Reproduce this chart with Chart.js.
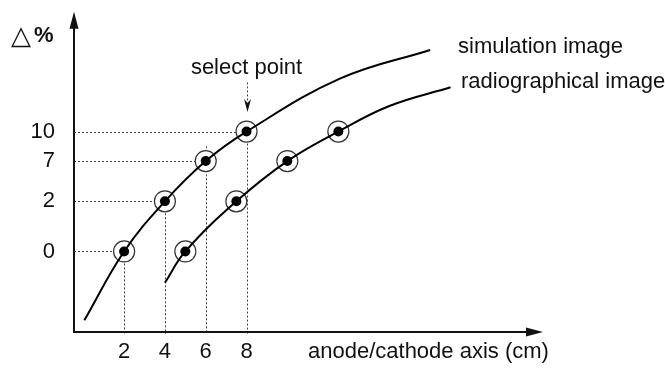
<!DOCTYPE html>
<html>
<head>
<meta charset="utf-8">
<script src="https://cdn.jsdelivr.net/npm/chart.js@4.4.1/dist/chart.umd.min.js"></script>
<style>
  html, body { margin: 0; padding: 0; background: #fff; }
  #wrap { width: 665px; height: 368px; }
</style>
</head>
<body>
<div id="wrap"><canvas id="chart"></canvas></div>
<script>
// axis ticks
const xTicks = [2, 4, 6, 8];
const yTicks = [0, 2, 7, 10];

// simulation image: selected points, plus where the drawn curve begins / bends / ends
const simPoints = [{ x: 2, y: 0 }, { x: 4, y: 2 }, { x: 6, y: 7 }, { x: 8, y: 10 }];
const simCurve = [{ x: 0.05, y: -2.75 }, ...simPoints, { x: 12.6, y: 15.4 }, { x: 17.0, y: 18.3 }];

// radiographical image
const radPoints = [{ x: 5, y: 0 }, { x: 7.5, y: 2 }, { x: 10, y: 7 }, { x: 12.5, y: 10 }];
const radCurve = [{ x: 4.0, y: -1.25 }, ...radPoints, { x: 15.0, y: 12.6 }, { x: 18.0, y: 14.5 }];

// dotted guides: horizontal from the y axis to each sim point, vertical down to the x axis
const guideX = [2, 4, 6, 8];
const guideY = [0, 2, 7, 10];
const guideTop = [0, 2, 8.5, 10];

// "select point" arrow on x = 8
const selectArrow = { x: 8, from: 15, to: 12 };

// the y axis of the sketch is not linear: each tick sits at its own height
const yKnotPos = [0.2515, 0.408, 0.5337, 0.6258];

class SchematicScale extends Chart.LinearScale {
  toDecimal(v) {
    const k = yTicks, p = yKnotPos;
    let i = 0;
    if (v >= k[k.length - 1]) i = k.length - 2;
    else if (v > k[0]) while (v > k[i + 1]) i++;
    return p[i] + (v - k[i]) * (p[i + 1] - p[i]) / (k[i + 1] - k[i]);
  }
  getPixelForValue(v) {
    return v == null ? NaN : this.getPixelForDecimal(this.toDecimal(v));
  }
  getValueForPixel(px) {
    const d = this.getDecimalForPixel(px), k = yTicks, p = yKnotPos;
    let i = 0;
    if (d >= p[p.length - 1]) i = p.length - 2;
    else if (d > p[0]) while (d > p[i + 1]) i++;
    return k[i] + (d - p[i]) * (k[i + 1] - k[i]) / (p[i + 1] - p[i]);
  }
}
SchematicScale.id = 'schematic';
SchematicScale.defaults = Chart.LinearScale.defaults;
Chart.register(SchematicScale);

const FONT = '"Liberation Sans", Arial, Helvetica, sans-serif';
Chart.defaults.font.family = FONT;
Chart.defaults.font.size = 22;
Chart.defaults.color = '#111';

const noPad = (s) => { s.paddingLeft = 0; s.paddingRight = 0; s.paddingTop = 0; s.paddingBottom = 0; };

const guidesPlugin = {
  id: 'guides',
  beforeDatasetsDraw(chart) {
    const { ctx, scales: { x, y } } = chart;
    ctx.save();
    ctx.strokeStyle = '#444';
    ctx.lineWidth = 1;
    ctx.setLineDash([2, 2]);
    guideX.forEach((gx, i) => {
      const px = Math.round(x.getPixelForValue(gx)) + 0.5;
      const py = Math.round(y.getPixelForValue(guideY[i])) + 0.5;
      ctx.beginPath();
      ctx.moveTo(x.left, py);
      ctx.lineTo(px, py);
      ctx.moveTo(px, y.getPixelForValue(guideTop[i]));
      ctx.lineTo(px, y.bottom + 2);
      ctx.stroke();
    });
    // select point arrow
    const ax = Math.round(x.getPixelForValue(selectArrow.x)) + 0.5;
    const y0 = y.getPixelForValue(selectArrow.from);
    const y1 = y.getPixelForValue(selectArrow.to);
    ctx.beginPath();
    ctx.moveTo(ax, y0);
    ctx.lineTo(ax, y1 - 10);
    ctx.stroke();
    ctx.setLineDash([]);
    ctx.fillStyle = '#111';
    ctx.beginPath();
    ctx.moveTo(ax, y1);
    ctx.lineTo(ax - 3.5, y1 - 13);
    ctx.lineTo(ax, y1 - 9);
    ctx.lineTo(ax + 3.5, y1 - 13);
    ctx.closePath();
    ctx.fill();
    ctx.restore();
  }
};

const axesPlugin = {
  id: 'axesAndText',
  afterDraw(chart) {
    const { ctx, chartArea: a } = chart;
    ctx.save();
    ctx.strokeStyle = '#111';
    ctx.fillStyle = '#111';
    ctx.lineWidth = 2;
    ctx.beginPath();
    ctx.moveTo(a.left, a.bottom);
    ctx.lineTo(a.left, a.top + 14);
    ctx.moveTo(a.left - 1, a.bottom);
    ctx.lineTo(a.right - 14, a.bottom);
    ctx.stroke();
    // arrow heads
    ctx.beginPath();
    ctx.moveTo(a.left, a.top);
    ctx.lineTo(a.left - 4.5, a.top + 17);
    ctx.lineTo(a.left + 4.5, a.top + 17);
    ctx.closePath();
    ctx.fill();
    ctx.beginPath();
    ctx.moveTo(a.right, a.bottom);
    ctx.lineTo(a.right - 17, a.bottom - 4.5);
    ctx.lineTo(a.right - 17, a.bottom + 4.5);
    ctx.closePath();
    ctx.fill();

    ctx.font = '22px ' + FONT;
    ctx.textBaseline = 'middle';
    ctx.textAlign = 'left';
    ctx.fillText('simulation image', 458, 47);
    ctx.fillText('radiographical image', 461, 82);
    ctx.fillText('anode/cathode axis (cm)', 308, 352);
    ctx.textAlign = 'center';
    ctx.fillText('select point', chart.scales.x.getPixelForValue(selectArrow.x), 68);
    ctx.textAlign = 'left';
    ctx.font = '26px "DejaVu Sans", sans-serif';
    ctx.fillText('△', 11, 37);
    ctx.font = 'bold 22px ' + FONT;
    ctx.fillText('%', 34, 36);
    ctx.restore();
  }
};

new Chart(document.getElementById('chart'), {
  type: 'scatter',
  data: {
    datasets: [
      {
        label: 'dots',
        data: [...simPoints, ...radPoints],
        pointRadius: 5,
        pointBackgroundColor: '#000',
        pointBorderWidth: 0,
        order: 0
      },
      {
        label: 'simulation image',
        data: simCurve,
        showLine: true,
        borderColor: '#000',
        borderWidth: 2,
        pointRadius: 0,
        tension: 0.4,
        order: 1
      },
      {
        label: 'radiographical image',
        data: radCurve,
        showLine: true,
        borderColor: '#000',
        borderWidth: 2,
        pointRadius: 0,
        tension: 0.4,
        order: 1
      },
      {
        label: 'rings',
        data: [...simPoints, ...radPoints],
        pointRadius: 10.5,
        pointBackgroundColor: '#fff',
        pointBorderColor: '#333',
        pointBorderWidth: 1.2,
        order: 2
      }
    ]
  },
  options: {
    responsive: true,
    maintainAspectRatio: false,
    animation: false,
    events: [],
    layout: { padding: { left: 0, right: 122, top: 6, bottom: 0 } },
    plugins: { legend: { display: false }, tooltip: { enabled: false } },
    scales: {
      x: {
        type: 'linear',
        min: -0.456,
        max: 22.53,
        grid: { display: false, drawTicks: false },
        border: { display: false },
        afterBuildTicks: (s) => { s.ticks = xTicks.map(v => ({ value: v })); },
        afterFit: (s) => { s.height = 36; noPad(s); },
        ticks: { padding: 7, color: '#111', callback: (v) => String(v) }
      },
      y: {
        type: 'schematic',
        min: -3.5,
        max: 24,
        grid: { display: false, drawTicks: false },
        border: { display: false },
        afterBuildTicks: (s) => { s.ticks = yTicks.map(v => ({ value: v })); },
        afterFit: (s) => { s.width = 74; noPad(s); },
        ticks: { padding: 19, color: '#111', callback: (v) => String(v) }
      }
    }
  },
  plugins: [guidesPlugin, axesPlugin]
});
</script>
</body>
</html>
